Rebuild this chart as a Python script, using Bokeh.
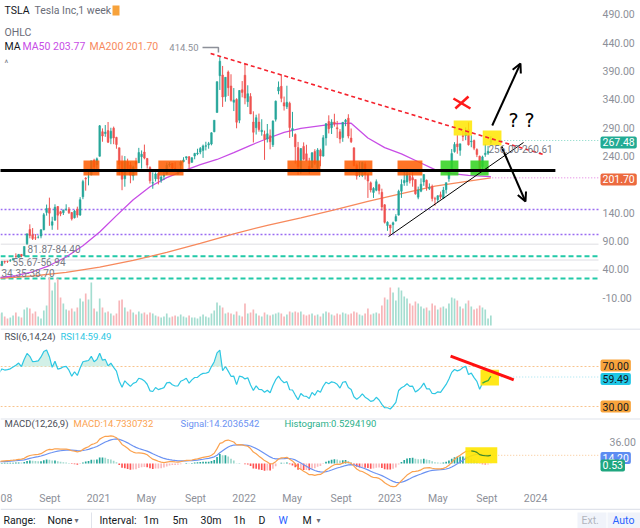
import numpy as np
import pandas as pd
from bokeh.plotting import figure
from bokeh.layouts import column
from bokeh.models import (Range1d, FixedTicker, Span, Label, Arrow, OpenHead, BoxAnnotation,
                          CustomJSTickFormatter)
from bokeh.core.properties import value
from bokeh.embed import file_html
from bokeh.resources import INLINE

FONT = "Roboto"

# ---------------------------------------------------------------- data
first_week = "2020-04-27"   # week of the first visible candle (weekly bars)

# weekly closes before the first visible bar (only used to warm up RSI / MACD)
pre_closes = [29.53, 31.88, 34.03, 37.65, 43.37, 49.87, 53.34, 60.07, 44.53, 46.90,
              36.44, 28.50, 34.29, 32.00, 38.20, 50.26, 48.34]

opens_2020 = [49.1, 47.1, 54.5, 55.0, 55.5, 57.2, 62.7, 61.5, 66.7, 64.0, 85.6, 110.6,
              101.3, 95.8, 96.7, 99.0, 110.0, 140.7, 148.2, 118.0, 127.0, 151.0, 141.8, 140.0,
              146.0, 146.4, 140.4, 131.3, 146.2, 136.0, 168.1, 201.0, 203.0, 207.1, 232.7, 224.8]
highs_2020 = [53.7, 54.9, 55.4, 55.3, 58.2, 60.6, 68.5, 67.0, 67.2, 80.6, 103.2, 119.7,
              113.1, 102.3, 100.1, 111.0, 139.7, 154.5, 166.7, 133.0, 155.0, 151.9, 143.3, 145.7,
              155.0, 150.0, 141.4, 145.0, 150.8, 167.5, 198.2, 202.9, 216.0, 231.7, 235.3, 237.5]
lows_2020 = [45.5, 45.9, 50.3, 51.6, 53.6, 55.6, 61.0, 60.9, 61.8, 63.6, 83.3, 95.0,
             92.0, 92.0, 94.7, 95.0, 109.2, 135.0, 117.0, 110.0, 126.0, 110.0, 134.0, 136.1,
             143.5, 138.0, 126.4, 130.0, 131.4, 134.5, 164.0, 179.0, 188.4, 206.0, 212.3, 217.9]
closes_2020 = [46.75, 54.6, 53.5, 54.4, 55.7, 59.0, 62.35, 66.7, 64.0, 80.6, 102.9, 100.0,
               94.5, 95.4, 96.8, 110.0, 136.7, 147.6, 139.4, 124.3, 149.8, 135.8, 138.4, 144.7,
               146.4, 140.0, 129.3, 143.0, 136.0, 163.2, 195.2, 199.7, 203.1, 231.7, 220.6, 235.2]
volumes_2020 = [360, 390, 270, 210, 240, 300, 390, 270, 240, 480, 540, 510,
                360, 420, 270, 210, 450, 600, 1440, 1050, 1290, 1410, 840, 660,
                480, 450, 510, 420, 540, 810, 720, 960, 780, 1290, 510, 420]

opens_2021 = [239.8, 283.0, 279.8, 285.0, 271.4, 289.3, 273.0, 254.7, 230.0, 200.0, 230.0, 224.0,
              205.3, 230.0, 228.2, 239.0, 247.0, 235.9, 220.0, 192.3, 200.0, 209.3, 197.3, 204.3,
              208.5, 224.5, 227.3, 218.3, 209.0, 224.0, 230.0, 236.7, 238.8, 229.0, 240.0, 244.0,
              247.0, 250.0, 257.3, 259.8, 261.3, 283.0, 316.8, 381.7, 383.0, 345.0, 388.3, 363.7,
              335.0, 340.0, 303.3, 357.0]
highs_2021 = [294.8, 288.8, 294.8, 300.1, 290.0, 292.0, 274.0, 255.0, 241.0, 240.0, 235.5, 229.4,
              223.0, 236.9, 254.5, 250.0, 260.3, 236.6, 222.0, 211.3, 211.3, 212.0, 206.3, 211.8,
              228.6, 229.5, 227.7, 229.3, 216.0, 232.2, 238.0, 239.3, 240.0, 238.0, 245.7, 253.0,
              256.0, 260.3, 265.3, 265.0, 282.0, 303.3, 371.7, 414.5, 399.0, 379.0, 390.9, 384.3,
              360.0, 342.0, 356.4, 372.3]
lows_2021 = [239.1, 265.3, 274.0, 263.0, 261.0, 261.0, 253.0, 206.3, 179.8, 186.0, 213.0, 192.1,
             197.0, 219.2, 228.0, 218.0, 234.3, 218.0, 191.5, 182.4, 195.2, 190.0, 193.0, 197.7,
             206.4, 221.0, 213.6, 214.0, 206.8, 213.0, 229.0, 233.0, 218.1, 228.0, 234.4, 241.6,
             243.3, 236.8, 250.0, 253.0, 259.0, 282.0, 316.8, 356.6, 326.7, 336.0, 346.1, 336.0,
             319.4, 289.0, 298.0, 343.6]
closes_2021 = [293.3, 275.4, 282.2, 264.5, 284.0, 272.0, 260.4, 225.2, 199.3, 231.2, 218.1, 206.3,
               220.6, 225.8, 246.3, 243.2, 236.5, 224.1, 196.4, 193.3, 208.4, 199.7, 203.1, 206.7,
               223.8, 226.0, 218.7, 214.6, 214.8, 229.4, 233.3, 239.0, 226.8, 237.0, 244.7, 245.4,
               253.3, 258.0, 258.4, 261.8, 281.0, 303.3, 371.3, 407.4, 344.3, 379.0, 360.6, 338.3,
               339.0, 299.8, 355.7, 352.3]
volumes_2021 = [810, 540, 390, 420, 360, 300, 360, 750, 780, 540, 420, 480,
                390, 330, 420, 360, 390, 330, 390, 360, 300, 270, 240, 270,
                360, 240, 270, 300, 270, 330, 270, 240, 300, 240, 240, 210,
                270, 330, 270, 240, 360, 450, 690, 600, 540, 360, 390, 360,
                330, 420, 300, 270]

opens_2022 = [382.6, 336.0, 345.0, 300.0, 290.0, 300.0, 283.0, 278.0, 270.0, 276.0, 260.0, 305.0,
              355.0, 363.0, 334.0, 327.0, 333.0, 286.0, 278.0, 255.0, 218.0, 257.0, 244.0, 222.0,
              220.0, 248.0, 220.0, 250.0, 240.0, 272.0, 301.0, 290.0, 300.0, 290.0, 282.8, 272.7,
              300.7, 306.9, 271.8, 254.5, 223.9, 210.0, 205.8, 226.2, 208.7, 192.8, 175.9, 179.9,
              189.4, 176.1, 154.0, 117.5]
highs_2022 = [402.7, 364.9, 351.0, 319.0, 313.0, 315.0, 305.0, 285.0, 296.6, 287.0, 303.0, 338.0,
              371.6, 384.3, 345.0, 364.1, 336.0, 318.0, 280.0, 265.0, 254.0, 264.2, 260.0, 237.0,
              247.0, 252.1, 254.0, 253.0, 277.0, 298.3, 311.9, 305.0, 314.7, 302.0, 287.7, 299.9,
              305.5, 313.8, 288.7, 255.2, 227.0, 229.8, 229.9, 229.9, 208.9, 195.2, 185.2, 198.9,
              191.3, 182.5, 155.3, 125.0]
lows_2022 = [331.3, 326.7, 314.0, 264.0, 278.0, 283.0, 276.0, 233.3, 264.0, 252.0, 256.0, 301.0,
             349.0, 335.0, 320.3, 323.0, 272.0, 274.0, 226.7, 206.9, 208.7, 232.5, 231.0, 208.7,
             219.0, 224.3, 216.2, 222.0, 239.0, 258.5, 280.0, 279.0, 292.0, 271.8, 262.5, 265.2,
             292.7, 271.2, 263.0, 221.9, 198.6, 203.0, 203.0, 198.6, 166.2, 175.9, 166.2, 178.0,
             172.5, 144.0, 121.0, 108.2]
closes_2022 = [342.3, 350.0, 314.4, 282.1, 307.8, 286.7, 285.7, 269.6, 279.4, 265.1, 301.8, 336.9,
               361.5, 341.8, 328.3, 335.0, 290.3, 288.5, 256.5, 221.3, 253.2, 234.5, 232.0, 216.8,
               245.7, 227.3, 250.8, 240.0, 272.2, 297.1, 288.2, 300.0, 296.7, 288.1, 270.2, 299.7,
               303.4, 275.3, 265.3, 223.1, 205.0, 214.4, 228.5, 207.5, 196.0, 180.2, 182.9, 194.9,
               179.1, 150.2, 123.2, 123.2]
volumes_2022 = [660, 360, 390, 480, 360, 300, 270, 390, 330, 300, 330, 360,
                390, 360, 270, 330, 420, 390, 420, 390, 420, 330, 300, 330,
                360, 300, 330, 270, 360, 420, 390, 330, 300, 360, 330, 390,
                360, 330, 360, 420, 390, 330, 300, 360, 510, 330, 360, 390,
                360, 600, 840, 780]

opens_2023 = [118.5, 119.0, 125.7, 135.9, 178.1, 193.0, 194.4, 205.0, 202.0, 198.5, 167.5, 178.1,
              194.4, 197.3, 182.5, 186.3, 164.7, 163.2, 171.7, 165.7, 180.7, 200.1, 217.8, 247.9,
              261.5, 250.1, 276.0, 276.5, 286.6, 265.4, 267.5, 251.5, 239.8, 221.6, 242.6, 245.0,
              264.3]
highs_2023 = [118.8, 124.4, 137.5, 180.7, 199.0, 214.0, 217.7, 209.7, 211.2, 198.6, 186.2, 200.7,
              207.8, 198.7, 191.8, 189.7, 168.2, 170.9, 177.4, 185.8, 193.2, 217.3, 252.4, 264.6,
              277.0, 261.6, 284.3, 290.7, 299.3, 276.9, 269.1, 253.7, 240.8, 240.8, 261.2, 258.0,
              274.9]
lows_2023 = [101.8, 104.6, 124.3, 135.0, 166.3, 187.6, 187.6, 191.8, 186.0, 171.9, 163.9, 176.3,
             187.6, 179.0, 180.1, 160.1, 152.4, 158.8, 163.8, 164.3, 174.0, 194.7, 217.3, 246.1,
             244.2, 240.6, 266.4, 268.0, 258.6, 255.6, 250.5, 238.2, 212.4, 217.1, 238.8, 242.0,
             260.6]
closes_2023 = [113.1, 122.4, 133.4, 177.9, 190.0, 196.9, 208.3, 196.9, 197.8, 173.4, 180.1, 190.4,
               207.5, 185.0, 185.0, 165.1, 164.3, 170.1, 168.0, 180.1, 193.2, 214.0, 244.4, 260.5,
               256.6, 261.8, 274.4, 281.4, 260.0, 266.4, 253.9, 242.7, 215.5, 238.6, 245.0, 248.5,
               267.48]
volumes_2023 = [1140, 990, 750, 1140, 1050, 870, 810, 660, 600, 720, 660, 570,
                510, 540, 450, 660, 600, 480, 540, 570, 510, 660, 840, 810,
                750, 570, 510, 660, 750, 570, 480, 510, 600, 540, 480, 210,
                300]

opens = opens_2020 + opens_2021 + opens_2022 + opens_2023
highs = highs_2020 + highs_2021 + highs_2022 + highs_2023
lows = lows_2020 + lows_2021 + lows_2022 + lows_2023
closes = closes_2020 + closes_2021 + closes_2022 + closes_2023
volumes = volumes_2020 + volumes_2021 + volumes_2022 + volumes_2023

# moving averages (week number, value)
ma50_weeks = [0, 6, 12, 18, 24, 30, 36, 42, 48, 54, 60, 66, 72, 78, 84, 90, 96, 102, 108,
              114, 120, 126, 132, 138, 144, 150, 156, 162, 168, 176]
ma50_values = [26, 29, 36, 47, 62, 82, 106, 135, 163, 186, 202, 214, 225, 234, 246, 259, 271,
               282, 289, 293, 297, 298, 272, 255, 244, 230, 216, 209, 206, 203.77]
ma200_weeks = [0, 12, 24, 36, 48, 60, 72, 84, 96, 108, 120, 132, 144, 156, 168, 176]
ma200_values = [24.5, 28.5, 35, 44, 56, 70, 86, 103, 118, 131, 145, 160, 174, 187, 196, 201.70]

# price scale ticks and time-axis labels
price_ticks = [-10, 40, 90, 140, 240, 290, 340, 390, 440, 490]
tick_dates = ["2020-05-08", "2020-09-01", "2021-01-01", "2021-05-01", "2021-09-01", "2022-01-01",
              "2022-05-01", "2022-09-01", "2023-01-01", "2023-05-01", "2023-09-01", "2024-01-01"]
tick_labels = ["08", "Sept", "2021", "May", "Sept", "2022", "May", "Sept", "2023", "May", "Sept", "2024"]

# user drawings (week number, value)
support_level = 214.6
support_weeks = [0.5, 199.1]
resist_pts = ([75.7, 194.8], [421.0, 242.8])
uptrend_pts = ([139.4, 187.7], [98.2, 264.0])
zone_low, zone_high = 205.8, 232.2
orange_zones = [(30.2, 35.9), (42.0, 49.5), (57.0, 66.0), (103.2, 115.0), (123.6, 133.6), (142.6, 151.5)]
green_zones = [(158.0, 164.4), (168.7, 175.2)]
yellow_zones = [(162.7, 169.3, 276.3, 302.8), (173.1, 179.8, 258.7, 285.2)]
purple_levels = [145.8, 101.8]
teal_levels = [63.5, 24.0]
gray_levels = [84.4, 56.9, 38.7]
range_texts = ["81.87-84.40", "55.67-56.94", "34.35-38.70", "256.00-260.61"]
rsi_red_pts = ([161.6, 184.2], [80.3, 56.7])
rsi_yellow = (172.3, 178.9, 51.0, 66.7)
macd_yellow = (166.9, 178.3, 0.5, 27.2)

# ---------------------------------------------------------------- derived
N = len(closes)
idx = np.arange(N)
o = np.array(opens, float); h = np.array(highs, float)
l = np.array(lows, float); c = np.array(closes, float); vol = np.array(volumes, float)
up = c >= o
UP, DOWN = "#26a69a", "#ef5350"
ccol = np.where(up, UP, DOWN).tolist()
vcol = np.where(up, "#a4ddd0", "#f7b5b8").tolist()

P0 = len(pre_closes)
allc = pd.Series(pre_closes + closes, dtype=float)
dd = allc.diff()
ag = dd.clip(lower=0).ewm(alpha=1 / 14, adjust=False).mean()
al = (-dd.clip(upper=0)).ewm(alpha=1 / 14, adjust=False).mean()
rsi = (100 - 100 / (1 + ag / al)).to_numpy()[P0:]
macd_all = allc.ewm(span=12, adjust=False).mean() - allc.ewm(span=26, adjust=False).mean()
sig_all = macd_all.ewm(span=9, adjust=False).mean()
hist_all = macd_all - sig_all
macd = macd_all.to_numpy()[P0:]
sig = sig_all.to_numpy()[P0:]
hist = hist_all.to_numpy()[P0:]
hprev = hist_all.shift(1).to_numpy()[P0:]
hcol = np.where(hist >= 0, np.where(hist >= hprev, "#26a69a", "#9fd8cd"),
                np.where(hist >= hprev, "#f9b9bd", "#ff5252")).tolist()

t0 = pd.Timestamp(first_week)
tick_pos = [round((pd.Timestamp(d) - t0).days / 7, 3) for d in tick_dates]

# placement helpers (picture pixels -> chart coordinates)
def wx(px): return 0.5 + px / 2.794
def py(px): return 40 + (269 - px) / 0.567
def rv(px): return 70 - (px - 366)
def mv(px): return (463 - px) / 0.6

# ---------------------------------------------------------------- figures
W = 640
XEND = wx(640)          # the frame spans the whole width; price scale column is inside it
PLOT_END = wx(598)      # right edge of the plotting area
LABEL_X = wx(602)
xr = Range1d(0.5, XEND)
GRAY = "#8d9099"


def make_fig(height, yr, mb=0, **kw):
    f = figure(width=W, height=height, x_range=xr, y_range=yr, output_backend="svg",
               toolbar_location=None, min_border_left=0, min_border_right=0,
               min_border_top=0, min_border_bottom=mb, outline_line_color=None,
               background_fill_color="white", border_fill_color="white", **kw)
    f.grid.visible = False
    return f


def txt(f, x, y, s, color, size="10px", align="left", font=FONT, style="normal"):
    r = f.text(x=[x], y=[y], text=[s], text_color=color, text_font=value(font),
               text_font_size=size, text_align=align, text_baseline="middle",
               text_font_style=style)
    r.level = "overlay"
    return r


def box_label(f, x, y, s, bg, fg="white"):
    f.add_layout(Label(x=x, y=y, text=s, text_color=fg, text_font=FONT, text_font_size="10.5px",
                       text_align="left", text_baseline="middle", background_fill_color=bg,
                       padding=2, border_radius=2, level="overlay"))


def hline(f, level, **kw):
    return f.line([0.5, PLOT_END], [level, level], **kw)


# ---------------- main price pane
main = make_fig(328, Range1d(-64.06, 514.4), x_axis_location=None, y_axis_location=None)

for lv in gray_levels:
    r = hline(main, lv, line_color="#e9e9ec", line_width=1.5)
    r.level = "underlay"
for lv in purple_levels:
    hline(main, lv, line_color="#9b6cf2", line_width=1.5, line_dash="2 2")
for lv in teal_levels:
    hline(main, lv, line_color="#22c9a8", line_width=2, line_dash="5 3")

main.extra_y_ranges = {"vol": Range1d(-90, 9750)}
main.vbar(x=idx, width=0.6, top=vol, bottom=0, fill_color=vcol, line_color=None, y_range_name="vol")

main.line(ma200_weeks, ma200_values, line_color="#f7895c", line_width=1.3)
main.line(ma50_weeks, ma50_values, line_color="#c84de6", line_width=1.3)

main.segment(x0=idx, y0=l, x1=idx, y1=h, line_color=ccol, line_width=1)
main.vbar(x=idx, width=0.62, top=np.maximum(o, c), bottom=np.minimum(o, c),
          fill_color=ccol, line_color=ccol, line_width=0.5)

for a, b in orange_zones:
    main.add_layout(BoxAnnotation(left=a, right=b, bottom=zone_low, top=zone_high,
                                  fill_color="#ff5c00", fill_alpha=0.85, line_color=None))
for a, b in green_zones:
    main.add_layout(BoxAnnotation(left=a, right=b, bottom=zone_low, top=zone_high,
                                  fill_color="#2fd21c", fill_alpha=0.85, line_color=None))
for a, b, lo, hi in yellow_zones:
    main.add_layout(BoxAnnotation(left=a, right=b, bottom=lo, top=hi,
                                  fill_color="#ffe600", fill_alpha=0.85, line_color=None))

# last price / MA price lines
main.line([idx[-1] + 0.5, PLOT_END], [closes[-1], closes[-1]], line_color="#7fd6c4", line_dash="1 2", line_width=1)
main.line([idx[-1] + 0.5, PLOT_END], [ma200_values[-1], ma200_values[-1]], line_color="#eba4ea", line_dash="1 2", line_width=1.5)

r = main.line(support_weeks, [support_level, support_level], line_color="black", line_width=3)
r.level = "overlay"
r = main.line(*resist_pts, line_color="#f5222d", line_width=1.6, line_dash="4 3")
r.level = "overlay"
r = main.line(*uptrend_pts, line_color="black", line_width=1)
r.level = "overlay"
r = main.multi_line(xs=[[162.6, 168.7], [163.3, 168.0]], ys=[[341.6, 324.0], [324.0, 345.1]],
                    line_color="#ff1a1a", line_width=2.5)
r.level = "overlay"
main.add_layout(Arrow(end=OpenHead(size=9, line_width=2, line_color="black"), x_start=176.5, y_start=294,
                      x_end=186.6, y_end=403.3, line_width=2, line_color="black"))
main.add_layout(Arrow(end=OpenHead(size=9, line_width=2, line_color="black"), x_start=179.8, y_start=256.9,
                      x_end=188.4, y_end=159.9, line_width=2, line_color="black"))
txt(main, 187.0, 304.5, "? ?", "black", size="19px", align="center", font="DejaVu Sans")

# high marker and range notes
main.line([72.8, 78.5, 78.5], [431.5, 431.5, 422.7], line_color="#8d9099", line_width=1.5)
txt(main, wx(198), py(47), "414.50", GRAY, size="9.5px", align="right")
txt(main, wx(27), py(249), range_texts[0], "#787b86", size="10px")
txt(main, wx(12), py(262), range_texts[1], "#787b86", size="10px")
txt(main, wx(1), py(273), range_texts[2], "#787b86", size="10px")
txt(main, wx(488), py(149), range_texts[3], "#787b86", size="10px")

# legend texts
txt(main, wx(4), py(10), "TSLA", "#131722", size="10.5px")
txt(main, wx(34), py(10), "Tesla Inc,1 week", "#6a6d78", size="10.5px")
main.quad(left=[wx(112)], right=[wx(119)], bottom=[py(15)], top=[py(5)], fill_color="#f7a23b", line_color=None)
txt(main, wx(4), py(32), "OHLC", "#6a6d78", size="10.5px")
txt(main, wx(4), py(46), "MA", "#131722", size="10.5px")
txt(main, wx(22), py(46), "MA50 203.77", "#c84de6", size="10.5px")
txt(main, wx(89), py(46), "MA200 201.70", "#f7895c", size="10.5px")
txt(main, wx(4), py(63), "^", "#787b86", size="9px")

# price scale
for t in price_ticks:
    txt(main, LABEL_X, t, f"{t:.2f}", GRAY, size="10.5px")
box_label(main, wx(600), py(142), "267.48", "#22ab94")
box_label(main, wx(600), py(179), "201.70", "#ec6a3f")

# ---------------- RSI pane
rsi_fig = make_fig(90, Range1d(18, 108), x_axis_location=None, y_axis_location=None)
rsi_fig.add_layout(Span(location=107.4, dimension="width", line_color="#e0e3eb", line_width=1.5))
for lv in (70, 30):
    r = hline(rsi_fig, lv, line_color="#f8c48e", line_width=1, line_dash="2 2")
    r.level = "underlay"
rsi_fig.varea(x=idx, y1=np.full(N, 70.0), y2=np.maximum(rsi, 70.0), fill_color="#cdeee4", fill_alpha=0.9)
rsi_fig.line(idx, rsi, line_color="#2ec7e3", line_width=1.2)
rsi_fig.add_layout(BoxAnnotation(left=rsi_yellow[0], right=rsi_yellow[1], bottom=rsi_yellow[2],
                                 top=rsi_yellow[3], fill_color="#ffe600", fill_alpha=0.9, line_color=None))
r = rsi_fig.line(idx[-4:], rsi[-4:], line_color="#3caa3c", line_width=1.3)
r.level = "overlay"
r = rsi_fig.line(*rsi_red_pts, line_color="#ff1010", line_width=3)
r.level = "overlay"
rsi_fig.line([idx[-1] + 0.5, PLOT_END], [59.49, 59.49], line_color="#9fe2ef", line_dash="1 2", line_width=1)
txt(rsi_fig, wx(4), rv(336), "RSI(6,14,24)", "#4a4d57", size="9.5px")
txt(rsi_fig, wx(60), rv(336), "RSI14:59.49", "#2ec7e3", size="9.5px")
box_label(rsi_fig, wx(600), rv(365), "70.00", "#f8a43c", fg="#131722")
box_label(rsi_fig, wx(600), rv(406), "30.00", "#f8a43c", fg="#131722")
box_label(rsi_fig, wx(600), rv(378.5), "59.49", "#20c7e6", fg="#131722")

# ---------------- MACD pane
macd_fig = make_fig(90, Range1d(-41.67, 75), mb=20, y_axis_location=None)
macd_fig.add_layout(Span(location=74.4, dimension="width", line_color="#e0e3eb", line_width=1.5))
mx = macd_fig.xaxis[0]
mx.axis_line_color = None
mx.major_tick_line_color = None
mx.minor_tick_line_color = None
mx.major_tick_out = 0
mx.major_tick_in = 0
mx.minor_tick_out = 0
mx.minor_tick_in = 0
mx.major_label_text_color = GRAY
mx.major_label_text_font = FONT
mx.major_label_text_font_size = "10.5px"
mx.ticker = FixedTicker(ticks=tick_pos)
mx.formatter = CustomJSTickFormatter(args=dict(pos=tick_pos, lab=tick_labels), code="""
    let best = ''; let bd = 1e9;
    for (let i = 0; i < pos.length; i++) {
        const d = Math.abs(pos[i] - tick);
        if (d < bd) { bd = d; best = lab[i]; }
    }
    return best;
""")
mx.major_label_standoff = 3

macd_fig.vbar(x=idx, width=0.6, top=hist, bottom=0, fill_color=hcol, line_color=None)
macd_fig.add_layout(BoxAnnotation(left=macd_yellow[0], right=macd_yellow[1], bottom=macd_yellow[2],
                                  top=macd_yellow[3], fill_color="#ffe600", fill_alpha=0.9, line_color=None))
macd_fig.line(idx, sig, line_color="#6b92f2", line_width=1.2)
macd_fig.line(idx, macd, line_color="#fba24f", line_width=1.2)
r = macd_fig.line(idx[-8:], macd[-8:], line_color="#3d8a2e", line_width=1.2)
r.level = "overlay"
macd_fig.line([idx[-1] + 0.5, PLOT_END], [macd[-1], macd[-1]], line_color="#f8c48e", line_dash="1 2", line_width=1)
txt(macd_fig, wx(4), mv(423), "MACD(12,26,9)", "#4a4d57", size="9.5px")
txt(macd_fig, wx(73), mv(423), "MACD:14.7330732", "#fba24f", size="9.5px")
txt(macd_fig, wx(180), mv(423), "Signal:14.2036542", "#6b92f2", size="9.5px")
txt(macd_fig, wx(284), mv(423), "Histogram:0.5294190", "#2bb08a", size="9.5px")
txt(macd_fig, wx(609), 36, "36.00", GRAY, size="10.5px")
box_label(macd_fig, wx(600), mv(457.5), "14.20", "#5d8cf2")
box_label(macd_fig, wx(600), mv(465), "0.53", "#1fa67f")

# ---------------- bottom bar
bar = figure(width=W, height=20, x_range=Range1d(0, 640), y_range=Range1d(528, 508),
             output_backend="svg", toolbar_location=None, x_axis_location=None,
             y_axis_location=None, min_border_left=0, min_border_right=0, min_border_top=0,
             min_border_bottom=0, outline_line_color=None, background_fill_color="white",
             border_fill_color="white")
bar.grid.visible = False
bar.add_layout(Span(location=508.7, dimension="width", line_color="#e0e3eb", line_width=1.5))
bar.line([91, 91], [512, 528], line_color="#e0e3eb", line_width=1)
bar.add_layout(BoxAnnotation(left=577, right=606, bottom=528, top=512, fill_color="#f0f3fa",
                             fill_alpha=1, line_color=None))
bar.add_layout(BoxAnnotation(left=607, right=640, bottom=528, top=512, fill_color="#f0f3fa",
                             fill_alpha=1, line_color=None))
bar_items = [("Range:", 3), ("None", 47), ("Interval:", 99), ("1m", 143), ("5m", 172),
             ("30m", 200), ("1h", 233), ("D", 258), ("M", 302)]
for s, x in bar_items:
    txt(bar, x, 520, s, "#131722", size="10.5px")
txt(bar, 278, 520, "W", "#2962ff", size="10.5px")
txt(bar, 74, 520, "\u25be", "#6a6d78", size="8px", font="DejaVu Sans")
txt(bar, 316, 520, "\u25be", "#6a6d78", size="8px", font="DejaVu Sans")
txt(bar, 581, 520, "Ext.", "#b2b5be", size="10.5px")
txt(bar, 612, 520, "Auto", "#2962ff", size="10.5px")

layout = column(main, rsi_fig, macd_fig, bar, spacing=0)
open("out.html", "w").write(file_html(layout, INLINE))
